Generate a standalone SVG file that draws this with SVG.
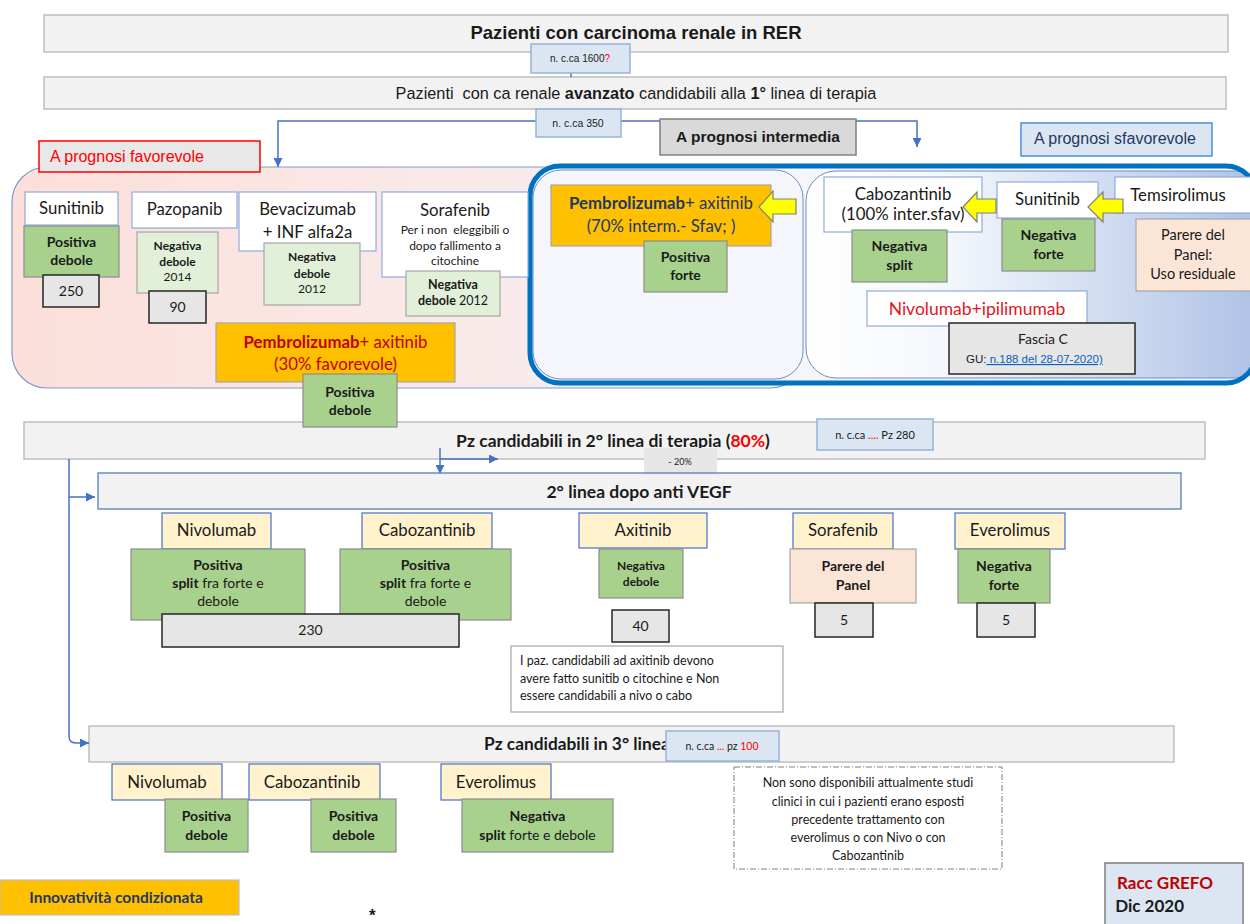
<svg xmlns="http://www.w3.org/2000/svg" width="1250" height="924" viewBox="0 0 1250 924">
<defs>
<linearGradient id="gFav" x1="0" y1="0" x2="1" y2="0">
<stop offset="0" stop-color="#fcdfda"/><stop offset="0.6" stop-color="#f9eaea"/><stop offset="1" stop-color="#f5f1f4"/>
</linearGradient>
<linearGradient id="gSfav" x1="0" y1="0" x2="1" y2="0">
<stop offset="0" stop-color="#ffffff"/><stop offset="0.3" stop-color="#f4f7fc"/><stop offset="1" stop-color="#adc1e5"/>
</linearGradient>
<marker id="ah" viewBox="0 0 10 10" refX="10" refY="5" markerWidth="9" markerHeight="9" markerUnits="userSpaceOnUse" orient="auto">
<path d="M0,0 L10,5 L0,10 z" fill="#4472c4"/>
</marker>
<style>
text{font-family:Lato,"Liberation Sans",sans-serif;fill:#1a1a1a}
.ar{font-family:"Liberation Sans",Arial,sans-serif}
.c{text-anchor:middle}
.b{font-weight:bold}
.f16{font-size:16.8px}
.f14{font-size:14px}
.f12{font-size:12px}
.white{fill:#fff;stroke:#8faadc;stroke-width:1.2}
.green{fill:#a9d18e;stroke:#8c8c8c;stroke-width:1.2}
.lgreen{fill:#e2f0d9;stroke:#a6a6a6;stroke-width:1.2}
.num{fill:#e7e6e6;stroke:#262626;stroke-width:1.5}
.cream{fill:#fff2cc;stroke:#4472c4;stroke-width:1.2}
.peach{fill:#fbe5d6;stroke:#a6a6a6;stroke-width:1.2}
.orange{fill:#ffc000;stroke:#a6a6a6;stroke-width:1.2}
.band{fill:#f2f2f2;stroke:#bfbfbf;stroke-width:1.5}
.cnt{fill:#dce6f2;stroke:#95b3d7;stroke-width:1.5}
.conn{stroke:#4472c4;stroke-width:1.5;fill:none}
.ya{fill:#ffff00;stroke:#7f7f7f;stroke-width:1.2}
.red{fill:#ff0000}
.rd2{fill:#e3161d}
.dred{fill:#c00000}
.navy{fill:#1f3864}
</style>
</defs>

<!-- background regions -->
<g id="regions">
<rect x="12" y="167" width="793" height="221" rx="35" fill="url(#gFav)" stroke="#7f9bcf" stroke-width="1.2"/>
<rect x="530" y="166" width="726" height="217" rx="30" fill="#f4f6fb" stroke="none"/>
<rect x="533" y="170" width="270" height="209" rx="28" fill="#f4f6fb" stroke="#6d8ebf" stroke-width="1"/>
<rect x="806" y="171" width="460" height="207" rx="30" fill="url(#gSfav)" stroke="#6d8ebf" stroke-width="1"/>
<rect x="530" y="166" width="726" height="217" rx="30" fill="none" stroke="#0070c0" stroke-width="5"/>
</g>

<g id="top">
<rect x="44" y="15" width="1184" height="37" class="band"/>
<text x="636" y="39" class="ar c b" font-size="18.5">Pazienti con carcinoma renale in RER</text>
</g>
<g id="first-line">
<rect x="44" y="77" width="1182" height="32" class="band"/>
<text x="636" y="99" class="ar c" font-size="16.3" xml:space="preserve">Pazienti  con ca renale <tspan font-weight="bold">avanzato</tspan> candidabili alla <tspan font-weight="bold">1°</tspan> linea di terapia</text>
</g>
<g id="band2">
<rect x="24" y="422" width="1181" height="37" class="band"/>
<text x="613" y="447" class="c b" font-size="17.5">Pz candidabili in 2° linea di terapia (<tspan fill="#ff0000">80%</tspan>)</text>
</g>
<g id="band3">
<rect x="89" y="726" width="1085" height="36" class="band"/>
<text x="484" y="750" class="b" font-size="17.3">Pz candidabili in 3° linea</text>
</g>

<!-- connectors -->
<g id="connectors">
<line x1="571" y1="73" x2="571" y2="77" class="conn"/>
<path d="M536,121 H278 V167" class="conn" marker-end="url(#ah)"/>
<path d="M621,121 H917 V147" class="conn" marker-end="url(#ah)"/>
<path d="M69,459 V736 Q69,743 76,743 H89" class="conn" marker-end="url(#ah)"/>
<path d="M69,497 H95" class="conn" marker-end="url(#ah)"/>
<path d="M440,448 V474" class="conn" marker-end="url(#ah)"/>
<path d="M440,459 H498" class="conn" marker-end="url(#ah)"/>
</g>

<g id="cnt1600">
<rect x="531" y="44" width="99" height="29" class="cnt"/>
<text x="580" y="62" class="ar c" font-size="10">n. c.ca 1600<tspan fill="#ff0000">?</tspan></text>
</g>
<g id="cnt350">
<rect x="536" y="109" width="85" height="28" class="cnt"/>
<text x="578" y="127" class="ar c" font-size="10.5">n. c.ca 350</text>
</g>
<g id="prog-fav">
<rect x="39" y="141" width="221" height="31" fill="#e8e8e8" stroke="#ff0000" stroke-width="1.5"/>
<text x="50" y="162" class="ar red" font-size="16">A prognosi favorevole</text>
</g>
<g id="prog-int">
<rect x="660" y="119" width="196" height="36" fill="#d9d9d9" stroke="#808080" stroke-width="1.5"/>
<text x="758" y="142" class="ar c b" font-size="15.5">A prognosi intermedia</text>
</g>
<g id="prog-sfav">
<rect x="1021" y="123" width="191" height="33" fill="#dce6f2" stroke="#4a90d9" stroke-width="1.5"/>
<text x="1034" y="144" class="ar navy" font-size="16">A prognosi sfavorevole</text>
</g>

<!-- favourable -->
<g id="sunitinib1">
<rect x="25" y="192" width="93" height="33" class="white"/>
<text x="71.5" y="214" class="c f16">Sunitinib</text>
</g>
<g id="sunitinib1-rec">
<rect x="24" y="226" width="95" height="51" class="green"/>
<text x="71.5" y="247" class="c b f14">Positiva</text>
<text x="71.5" y="265" class="c b f14">debole</text>
</g>
<g id="n250">
<rect x="43" y="275" width="56" height="32" class="num"/>
<text x="71" y="296" class="c f14">250</text>
</g>
<g id="pazopanib">
<rect x="132" y="192" width="105" height="36" class="white"/>
<text x="184.5" y="215" class="c f16">Pazopanib</text>
</g>
<g id="pazopanib-rec">
<rect x="137" y="232" width="81" height="61" class="lgreen"/>
<text x="177.5" y="250" class="c b f12">Negativa</text>
<text x="177.5" y="266" class="c b f12">debole</text>
<text x="177.5" y="281" class="c f12">2014</text>
</g>
<g id="n90">
<rect x="149" y="291" width="57" height="32" class="num"/>
<text x="177.5" y="312" class="c f14">90</text>
</g>
<g id="bevacizumab">
<rect x="239" y="192" width="137" height="59" class="white"/>
<text x="307.5" y="215" class="c f16">Bevacizumab</text>
<text x="307.5" y="238" class="c f16">+ INF alfa2a</text>
</g>
<g id="bevacizumab-rec">
<rect x="264" y="243" width="96" height="62" class="lgreen"/>
<text x="312" y="261" class="c b f12">Negativa</text>
<text x="312" y="278" class="c b f12">debole</text>
<text x="312" y="293" class="c f12">2012</text>
</g>
<g id="sorafenib1">
<rect x="382" y="192" width="146" height="85" class="white"/>
<text x="455" y="216" class="c f16">Sorafenib</text>
<text x="455" y="234" class="c f12" xml:space="preserve">Per i non  eleggibili o</text>
<text x="455" y="250" class="c f12">dopo fallimento a</text>
<text x="455" y="265" class="c f12">citochine</text>
</g>
<g id="sorafenib1-rec">
<rect x="406" y="271" width="94" height="45" class="lgreen"/>
<text x="453" y="289" class="c b" font-size="12.5">Negativa</text>
<text x="453" y="305" class="c" font-size="12.5"><tspan font-weight="bold">debole</tspan> 2012</text>
</g>
<g id="pembro30">
<rect x="216" y="323" width="239" height="59" class="orange"/>
<text x="335.5" y="348" class="c f16 dred"><tspan font-weight="bold">Pembrolizumab</tspan>+ axitinib</text>
<text x="335.5" y="370" class="c f16 dred">(30% favorevole)</text>
</g>
<g id="pembro30-rec">
<rect x="303" y="374" width="94" height="53" class="green"/>
<text x="350" y="397" class="c b f14">Positiva</text>
<text x="350" y="415" class="c b f14">debole</text>
</g>

<!-- intermediate -->
<g id="pembro70">
<rect x="551" y="185" width="220" height="61" class="orange"/>
<text x="661" y="209" class="c f16 navy"><tspan font-weight="bold">Pembrolizumab</tspan>+ axitinib</text>
<text x="661" y="232" class="c f16 navy">(70% interm.- Sfav; )</text>
</g>
<g id="pembro70-rec">
<rect x="644" y="241" width="83" height="51" class="green"/>
<text x="685.5" y="262" class="c b f14">Positiva</text>
<text x="685.5" y="280" class="c b f14">forte</text>
</g>

<!-- unfavourable -->
<g id="cabozantinib1">
<rect x="824" y="177" width="158" height="55" class="white"/>
<text x="903" y="200" class="c f16">Cabozantinib</text>
<text x="903" y="220" class="c f16">(100% inter.sfav)</text>
</g>
<g id="cabozantinib1-rec">
<rect x="852" y="230" width="95" height="52" class="green"/>
<text x="899.5" y="251" class="c b f14">Negativa</text>
<text x="899.5" y="270" class="c b f14">split</text>
</g>
<g id="sunitinib2">
<rect x="997" y="182" width="101" height="36" class="white"/>
<text x="1047.5" y="205" class="c f16">Sunitinib</text>
</g>
<g id="sunitinib2-rec">
<rect x="1002" y="219" width="93" height="52" class="green"/>
<text x="1048.5" y="240" class="c b f14">Negativa</text>
<text x="1048.5" y="259" class="c b f14">forte</text>
</g>
<g id="temsirolimus">
<rect x="1115" y="177" width="140" height="36" class="white"/>
<text x="1178" y="201" class="c f16">Temsirolimus</text>
</g>
<g id="temsirolimus-rec">
<rect x="1136" y="219" width="116" height="72" class="peach"/>
<text x="1193" y="240" class="c" font-size="14.5">Parere del</text>
<text x="1193" y="260" class="c" font-size="14.5">Panel:</text>
<text x="1193" y="279" class="c" font-size="14.5">Uso residuale</text>
</g>
<g id="nivo-ipi">
<rect x="867" y="291" width="220" height="35" class="white"/>
<text x="977" y="315" class="c rd2" font-size="17.5">Nivolumab+ipilimumab</text>
</g>
<g id="fascia-c">
<rect x="949" y="323" width="186" height="51" class="num"/>
<text x="1043" y="344" class="c f14">Fascia C</text>
<text x="966" y="363" class="ar" font-size="11.5">GU:<tspan fill="#0563c1" text-decoration="underline"> n.188 del 28-07-2020)</tspan></text>
</g>

<g id="yellow-arrows">
<polygon points="759,207 773,191 773,199 796,199 796,214 773,214 773,222" class="ya"/>
<polygon points="963,207 977,192 977,199 996,199 996,213 977,213 977,222" class="ya"/>
<polygon points="1088,207 1103,192 1103,199 1123,199 1123,213 1103,213 1103,222" class="ya"/>
</g>

<g id="cnt280">
<rect x="817" y="419" width="116" height="31" class="cnt"/>
<text x="875" y="439" class="c" font-size="11">n. c.ca <tspan fill="#ff0000">....</tspan> Pz 280</text>
</g>
<g id="minus20">
<rect x="644" y="448" width="73" height="26" fill="#e6e6e6"/>
<text x="680" y="465" class="c" font-size="9">- 20%</text>
</g>

<g id="second-line">
<rect x="98" y="473" width="1083" height="36" fill="#f2f2f2" stroke="#4472c4" stroke-width="1.2"/>
<text x="639" y="498" class="c b" font-size="17.5">2° linea dopo anti VEGF</text>
</g>

<g id="nivolumab2">
<rect x="162" y="513" width="109" height="36" class="cream"/>
<text x="216.5" y="536" class="c f16">Nivolumab</text>
</g>
<g id="nivolumab2-rec">
<rect x="131" y="549" width="174" height="71" class="green"/>
<text x="218" y="570" class="c b f14">Positiva</text>
<text x="218" y="588" class="c f14"><tspan font-weight="bold">split</tspan> fra forte e</text>
<text x="218" y="606" class="c f14">debole</text>
</g>
<g id="cabozantinib2">
<rect x="362" y="513" width="130" height="36" class="cream"/>
<text x="427" y="536" class="c f16">Cabozantinib</text>
</g>
<g id="cabozantinib2-rec">
<rect x="340" y="549" width="171" height="71" class="green"/>
<text x="425.5" y="570" class="c b f14">Positiva</text>
<text x="425.5" y="588" class="c f14"><tspan font-weight="bold">split</tspan> fra forte e</text>
<text x="425.5" y="606" class="c f14">debole</text>
</g>
<g id="n230">
<rect x="162" y="614" width="297" height="33" class="num"/>
<text x="310.5" y="635" class="c f14">230</text>
</g>
<g id="axitinib">
<rect x="579" y="513" width="128" height="35" class="cream"/>
<text x="643" y="536" class="c f16">Axitinib</text>
</g>
<g id="axitinib-rec">
<rect x="599" y="549" width="84" height="49" class="green"/>
<text x="641" y="570" class="c b f12">Negativa</text>
<text x="641" y="586" class="c b f12">debole</text>
</g>
<g id="n40">
<rect x="612" y="610" width="57" height="32" class="num"/>
<text x="640.5" y="631" class="c f14">40</text>
</g>
<g id="axitinib-note">
<rect x="511" y="646" width="272" height="66" fill="#fff" stroke="#a6a6a6" stroke-width="1.2"/>
<text x="520" y="665" font-size="12.5">I paz. candidabili ad axitinib devono</text>
<text x="520" y="683" font-size="12.5">avere fatto sunitib o citochine e Non</text>
<text x="520" y="700" font-size="12.5">essere candidabili a nivo o cabo</text>
</g>
<g id="sorafenib2">
<rect x="793" y="513" width="100" height="36" class="cream"/>
<text x="843" y="536" class="c f16">Sorafenib</text>
</g>
<g id="sorafenib2-rec">
<rect x="790" y="549" width="126" height="54" class="peach"/>
<text x="853" y="571" class="c b f14">Parere del</text>
<text x="853" y="590" class="c b f14">Panel</text>
</g>
<g id="n5a">
<rect x="815" y="603" width="58" height="34" class="num"/>
<text x="844" y="625" class="c f14">5</text>
</g>
<g id="everolimus2">
<rect x="955" y="513" width="110" height="36" class="cream"/>
<text x="1010" y="536" class="c f16">Everolimus</text>
</g>
<g id="everolimus2-rec">
<rect x="958" y="549" width="92" height="54" class="green"/>
<text x="1004" y="571" class="c b f14">Negativa</text>
<text x="1004" y="590" class="c b f14">forte</text>
</g>
<g id="n5b">
<rect x="977" y="603" width="58" height="34" class="num"/>
<text x="1006" y="625" class="c f14">5</text>
</g>

<g id="cnt100">
<rect x="666" y="731" width="113" height="30" class="cnt"/>
<text x="722" y="750" class="c" font-size="10.5">n. c.ca <tspan fill="#ff0000">...</tspan> pz <tspan fill="#ff0000">100</tspan></text>
</g>
<g id="nivolumab3">
<rect x="112" y="764" width="110" height="36" class="cream"/>
<text x="167" y="788" class="c f16">Nivolumab</text>
</g>
<g id="nivolumab3-rec">
<rect x="165" y="799" width="83" height="53" class="green"/>
<text x="206.5" y="821" class="c b f14">Positiva</text>
<text x="206.5" y="840" class="c b f14">debole</text>
</g>
<g id="cabozantinib3">
<rect x="249" y="764" width="131" height="36" class="cream"/>
<text x="312" y="788" class="c f16">Cabozantinib</text>
</g>
<g id="cabozantinib3-rec">
<rect x="311" y="799" width="85" height="53" class="green"/>
<text x="353.5" y="821" class="c b f14">Positiva</text>
<text x="353.5" y="840" class="c b f14">debole</text>
</g>
<g id="everolimus3">
<rect x="441" y="764" width="110" height="36" class="cream"/>
<text x="496" y="788" class="c f16">Everolimus</text>
</g>
<g id="everolimus3-rec">
<rect x="462" y="799" width="151" height="53" class="green"/>
<text x="537.5" y="821" class="c b f14">Negativa</text>
<text x="537.5" y="840" class="c f14"><tspan font-weight="bold">split</tspan> forte e debole</text>
</g>
<g id="note3">
<rect x="734" y="767" width="268" height="102" fill="#fff" stroke="#7f7f7f" stroke-width="1" stroke-dasharray="6 2 1 2"/>
<text x="868" y="787" class="c" font-size="12.5">Non sono disponibili attualmente studi</text>
<text x="868" y="806" class="c" font-size="12.5">clinici in cui i pazienti erano esposti</text>
<text x="868" y="824" class="c" font-size="12.5">precedente trattamento con</text>
<text x="868" y="842" class="c" font-size="12.5">everolimus o con Nivo o con</text>
<text x="868" y="860" class="c" font-size="12.5">Cabozantinib</text>
</g>

<g id="legend">
<rect x="0" y="880" width="239" height="35" fill="#ffc000" stroke="#bfbfbf" stroke-width="1.2"/>
<text x="116" y="903" class="c b navy" font-size="15.5">Innovatività condizionata</text>
</g>
<text x="369" y="921" class="ar b" font-size="17">*</text>
<g id="racc">
<rect x="1105" y="863" width="138" height="75" fill="#dce6f2" stroke="#7f7f7f" stroke-width="1.5"/>
<text x="1117" y="889" class="b dred" font-size="17">Racc GREFO</text>
<text x="1111" y="912" class="b" font-size="17" xml:space="preserve"> Dic 2020</text>
</g>
</svg>
